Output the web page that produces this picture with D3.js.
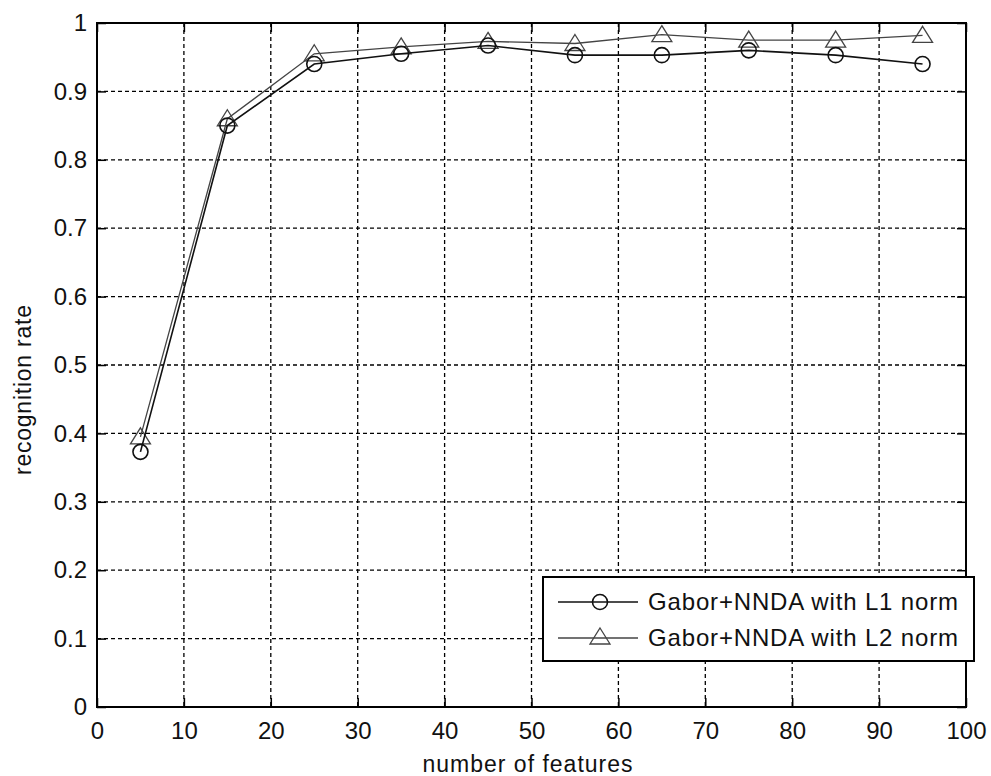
<!DOCTYPE html>
<html>
<head>
<meta charset="utf-8">
<script src="https://d3js.org/d3.v7.min.js"></script>
<style>
  body { margin: 0; background: #fff; }
  svg text { font-family: "Liberation Sans", Arial, sans-serif; fill: #111; }
</style>
</head>
<body>
<div id="chart"></div>
<script>
// data
var features = [5, 15, 25, 35, 45, 55, 65, 75, 85, 95];
var rateL1 = [0.373, 0.850, 0.940, 0.955, 0.967, 0.953, 0.953, 0.960, 0.953, 0.940];
var rateL2 = [0.395, 0.860, 0.955, 0.965, 0.973, 0.970, 0.983, 0.975, 0.975, 0.982];
var xTicks = [0, 10, 20, 30, 40, 50, 60, 70, 80, 90, 100];
var yTicks = [0, 0.1, 0.2, 0.3, 0.4, 0.5, 0.6, 0.7, 0.8, 0.9, 1];
var seriesNames = ["Gabor+NNDA with L1 norm", "Gabor+NNDA with L2 norm"];

var W = 991, H = 776;
var margin = { top: 23, right: 25, bottom: 69, left: 97 },
  width = W - margin.left - margin.right,
  height = H - margin.top - margin.bottom;

var svg = d3
  .select("#chart")
  .append("svg")
  .attr("width", W)
  .attr("height", H);
var g = svg
  .append("g")
  .attr("transform", "translate(" + margin.left + "," + margin.top + ")");

var x = d3.scaleLinear().domain([0, 100]).range([0, width]);
var y = d3.scaleLinear().domain([0, 1]).range([height, 0]);

// grid
g.append("g")
  .selectAll("line")
  .data(xTicks.slice(1, -1))
  .enter()
  .append("line")
  .attr("x1", (d) => x(d))
  .attr("x2", (d) => x(d))
  .attr("y1", 0)
  .attr("y2", height)
  .attr("stroke", "#000")
  .attr("stroke-width", 1.3)
  .attr("stroke-dasharray", "4,3");
g.append("g")
  .selectAll("line")
  .data(yTicks.slice(1, -1))
  .enter()
  .append("line")
  .attr("y1", (d) => y(d))
  .attr("y2", (d) => y(d))
  .attr("x1", 0)
  .attr("x2", width)
  .attr("stroke", "#000")
  .attr("stroke-width", 1.3)
  .attr("stroke-dasharray", "4,3");

// axes (ticks point inward, as in matlab)
var tickLen = 9;
g.append("g")
  .attr("transform", "translate(0," + height + ")")
  .call(d3.axisBottom(x).tickValues(xTicks).tickSize(-tickLen).tickPadding(15).tickFormat(d3.format("d")))
  .call((a) => a.select(".domain").remove())
  .selectAll("text")
  .style("font-size", "24px");
g.append("g")
  .call(d3.axisTop(x).tickValues(xTicks).tickSize(-tickLen).tickFormat(""))
  .call((a) => a.select(".domain").remove());
g.append("g")
  .call(d3.axisLeft(y).tickValues(yTicks).tickSize(-tickLen).tickPadding(10).tickFormat((d) => d === 0 || d === 1 ? d : d3.format(".1f")(d)))
  .call((a) => a.select(".domain").remove())
  .selectAll("text")
  .style("font-size", "24px");
g.append("g")
  .attr("transform", "translate(" + width + ",0)")
  .call(d3.axisRight(y).tickValues(yTicks).tickSize(-tickLen).tickFormat(""))
  .call((a) => a.select(".domain").remove());
g.selectAll(".tick line").attr("stroke", "#000").attr("stroke-width", 1.5);

g.append("rect")
  .attr("width", width)
  .attr("height", height)
  .attr("fill", "none")
  .attr("stroke", "#000")
  .attr("stroke-width", 2);

// axis labels
svg.append("text")
  .attr("x", margin.left + width / 2 - 4)
  .attr("y", 772)
  .attr("text-anchor", "middle")
  .attr("textLength", 210)
  .attr("lengthAdjust", "spacing")
  .style("font-size", "23px")
  .text("number of features");
svg.append("text")
  .attr("transform", "translate(31,475) rotate(-90)")
  .attr("text-anchor", "start")
  .attr("textLength", 170)
  .attr("lengthAdjust", "spacing")
  .style("font-size", "23px")
  .text("recognition rate");

// series
var line = d3.line().x((d) => x(d[0])).y((d) => y(d[1]));
var ptsL1 = features.map((f, i) => [f, rateL1[i]]);
var ptsL2 = features.map((f, i) => [f, rateL2[i]]);

var triPath = function (cx, cy) {
  return "M" + cx + "," + (cy - 9) + "L" + (cx + 10) + "," + (cy + 7) + "L" + (cx - 10) + "," + (cy + 7) + "Z";
};

g.append("path")
  .datum(ptsL2)
  .attr("fill", "none")
  .attr("stroke", "#444")
  .attr("stroke-width", 1.3)
  .attr("d", line);
g.append("g")
  .selectAll("path")
  .data(ptsL2)
  .enter()
  .append("path")
  .attr("d", (d) => triPath(x(d[0]), y(d[1])))
  .attr("fill", "none")
  .attr("stroke", "#444")
  .attr("stroke-width", 1.3);

g.append("path")
  .datum(ptsL1)
  .attr("fill", "none")
  .attr("stroke", "#111")
  .attr("stroke-width", 1.6)
  .attr("d", line);
g.append("g")
  .selectAll("circle")
  .data(ptsL1)
  .enter()
  .append("circle")
  .attr("cx", (d) => x(d[0]))
  .attr("cy", (d) => y(d[1]))
  .attr("r", 7.5)
  .attr("fill", "none")
  .attr("stroke", "#111")
  .attr("stroke-width", 1.6);

// legend
var lgX = 543, lgY = 577, lgW = 431, lgH = 84;
var lgnd = svg.append("g");
lgnd.append("rect")
  .attr("x", lgX)
  .attr("y", lgY)
  .attr("width", lgW)
  .attr("height", lgH)
  .attr("fill", "#fff")
  .attr("stroke", "#000")
  .attr("stroke-width", 2);
seriesNames.forEach(function (name, i) {
  var ly = lgY + 25 + i * 36;
  lgnd.append("line")
    .attr("x1", lgX + 15)
    .attr("x2", lgX + 95)
    .attr("y1", ly)
    .attr("y2", ly)
    .attr("stroke", i === 0 ? "#111" : "#444")
    .attr("stroke-width", i === 0 ? 1.6 : 1.3);
  if (i === 0) {
    lgnd.append("circle")
      .attr("cx", lgX + 57)
      .attr("cy", ly)
      .attr("r", 7.5)
      .attr("fill", "none")
      .attr("stroke", "#111")
      .attr("stroke-width", 1.6);
  } else {
    lgnd.append("path")
      .attr("d", triPath(lgX + 57, ly - 1))
      .attr("fill", "none")
      .attr("stroke", "#444")
      .attr("stroke-width", 1.3);
  }
  lgnd.append("text")
    .attr("x", lgX + 105)
    .attr("y", ly)
    .attr("dy", "0.35em")
    .attr("textLength", 310)
    .attr("lengthAdjust", "spacing")
    .style("font-size", "24px")
    .text(name);
});
</script>
</body>
</html>
